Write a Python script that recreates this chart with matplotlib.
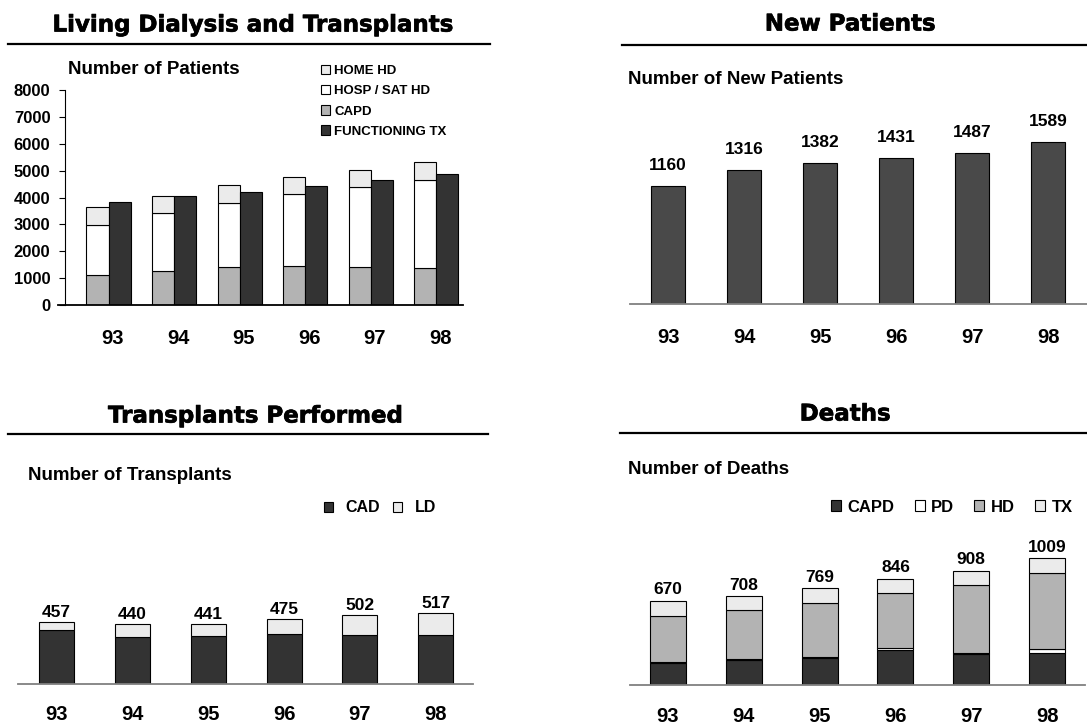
import numpy as np
import matplotlib
matplotlib.use('Agg')
import matplotlib.pyplot as plt
import matplotlib.patheffects as pe
from matplotlib.lines import Line2D

years = ['93', '94', '95', '96', '97', '98']

# living patients on dialysis / with a functioning graft
capd_living = [1120, 1280, 1420, 1450, 1430, 1380]
hosp_sat_hd = [1840, 2140, 2390, 2670, 2955, 3280]
home_hd = [670, 630, 650, 660, 645, 670]
functioning_tx = [3850, 4060, 4210, 4430, 4650, 4890]

new_patients = [1160, 1316, 1382, 1431, 1487, 1589]

# transplants: cadaveric / living donor
cad = [398, 341, 351, 363, 361, 361]
ld = [59, 99, 90, 112, 141, 156]

# deaths by modality
death_capd = [175, 201, 217, 279, 247, 255]
death_pd = [8, 5, 6, 18, 10, 30]
death_hd = [366, 391, 427, 435, 539, 604]
death_tx = [121, 111, 119, 114, 112, 120]

DARK = '#333333'
MID = '#b3b3b3'
LIGHT = '#ebebeb'
NEWP = '#494949'

W, H = 1087, 724
plt.rcParams['font.family'] = ['Liberation Sans', 'DejaVu Sans']
plt.rcParams['font.weight'] = 'bold'

fig = plt.figure(figsize=(W / 100, H / 100), dpi=100)


def box(l, t, r, b):
    return [l / W, 1 - b / H, (r - l) / W, (b - t) / H]


def header(text, cx, cy, x0, x1, ly):
    fig.text(cx / W, 1 - cy / H, text, family='DejaVu Sans', weight='bold',
             fontsize=16.5, ha='center', va='center',
             path_effects=[pe.withStroke(linewidth=0.5, foreground='black')])
    fig.add_artist(Line2D([x0 / W, x1 / W], [1 - ly / H, 1 - ly / H],
                          color='black', lw=1.6))


def subtitle(text, x, cy, size=13.5):
    fig.text(x / W, 1 - cy / H, text, fontsize=size, ha='left', va='center')


def bare_axes(ax, xlim, ylim, pad):
    ax.set_xlim(*xlim)
    ax.set_ylim(*ylim)
    for s in ['top', 'right', 'left']:
        ax.spines[s].set_visible(False)
    ax.spines['bottom'].set_color('#808080')
    ax.spines['bottom'].set_linewidth(1.3)
    ax.set_yticks([])
    ax.set_xticks(range(len(years)), years)
    ax.tick_params(axis='x', length=0, pad=pad, labelsize=14.5)


def totals_on_top(ax, totals, off):
    for i, t in enumerate(totals):
        ax.annotate(str(t), (i, t), xytext=(0, off), textcoords='offset points',
                    ha='center', va='baseline', fontsize=12.5)


x = np.arange(len(years))
edge = dict(edgecolor='black', linewidth=0.8)

# --- Living Dialysis and Transplants ---
header('Living Dialysis and Transplants', 252, 25, 8, 490, 44)
subtitle('Number of Patients', 68, 70)
ax1 = fig.add_axes(box(65, 90, 463, 305))
bw = 0.336
b_capd = ax1.bar(x - bw / 2, capd_living, bw, color=MID, **edge)
b_hosp = ax1.bar(x - bw / 2, hosp_sat_hd, bw, bottom=capd_living, color='white', **edge)
b_home = ax1.bar(x - bw / 2, home_hd, bw,
                 bottom=np.add(capd_living, hosp_sat_hd), color=LIGHT, **edge)
b_tx = ax1.bar(x + bw / 2, functioning_tx, bw, color=DARK, **edge)
ax1.set_xlim(-0.664, 5.41)
ax1.set_ylim(0, 8000)
ax1.set_yticks(range(0, 8001, 1000))
ax1.set_xticks(x + 0.06, years)
for s in ['top', 'right']:
    ax1.spines[s].set_visible(False)
ax1.spines['bottom'].set_visible(False)
ax1.axhline(0, xmin=-7 / 398, xmax=1, color='black', lw=1.3, clip_on=False)
ax1.tick_params(axis='y', length=4, pad=6.5, labelsize=12)
ax1.tick_params(axis='x', length=0, pad=17, labelsize=14.5)
ax1.legend([b_home, b_hosp, b_capd, b_tx],
           ['HOME HD', 'HOSP / SAT HD', 'CAPD', 'FUNCTIONING TX'],
           loc='upper left', bbox_to_anchor=(321 / W, 1 - 65 / H),
           bbox_transform=fig.transFigure, frameon=False, fontsize=9.5,
           handlelength=0.7, handleheight=0.7, handletextpad=0.3,
           labelspacing=0.6, borderpad=0, borderaxespad=0)

# --- New Patients ---
header('New Patients', 850, 24, 622, 1087, 45)
subtitle('Number of New Patients', 628, 80)
ax2 = fig.add_axes(box(630, 100.4, 1087, 304.3))
ax2.bar(x, new_patients, 0.447, color=NEWP, **edge)
bare_axes(ax2, (-0.5, 5.51), (0, 2000), 17)
totals_on_top(ax2, new_patients, 11.5)

# --- Transplants Performed ---
header('Transplants Performed', 255, 416, 8, 488, 434)
subtitle('Number of Transplants', 28, 475)
ax3 = fig.add_axes(box(18, 548, 473, 683.5))
b_cad = ax3.bar(x, cad, 0.462, color=DARK, **edge)
b_ld = ax3.bar(x, ld, 0.462, bottom=cad, color=LIGHT, **edge)
bare_axes(ax3, (-0.508, 5.49), (0, 1000), 15.5)
totals_on_top(ax3, np.add(cad, ld), 3.6)
ax3.legend([b_cad, b_ld], ['CAD', 'LD'], ncol=2, loc='center left',
           bbox_to_anchor=(324 / W, 1 - 508 / H), bbox_transform=fig.transFigure,
           frameon=False, fontsize=11.5, handlelength=0.55, handleheight=0.55,
           handletextpad=0.8, columnspacing=0.8, borderpad=0, borderaxespad=0)

# --- Deaths ---
header('Deaths', 845, 414, 620, 1087, 433)
subtitle('Number of Deaths', 628, 470)
ax4 = fig.add_axes(box(630, 496.6, 1085, 685))
bw4 = 0.475
s1 = np.array(death_capd)
s2 = s1 + death_pd
s3 = s2 + death_hd
d_capd = ax4.bar(x, death_capd, bw4, color=DARK, **edge)
d_pd = ax4.bar(x, death_pd, bw4, bottom=s1, color='white', **edge)
d_hd = ax4.bar(x, death_hd, bw4, bottom=s2, color=MID, **edge)
d_tx = ax4.bar(x, death_tx, bw4, bottom=s3, color=LIGHT, **edge)
bare_axes(ax4, (-0.501, 5.50), (0, 1500), 15.5)
totals_on_top(ax4, s3 + death_tx, 4.7)
ax4.legend([d_capd, d_pd, d_hd, d_tx], ['CAPD', 'PD', 'HD', 'TX'], ncol=4,
           loc='center left', bbox_to_anchor=(831 / W, 1 - 507 / H),
           bbox_transform=fig.transFigure, frameon=False, fontsize=12,
           handlelength=0.6, handleheight=0.6, handletextpad=0.4,
           columnspacing=1.2, borderpad=0, borderaxespad=0)

fig.savefig('out.png', dpi=100)
